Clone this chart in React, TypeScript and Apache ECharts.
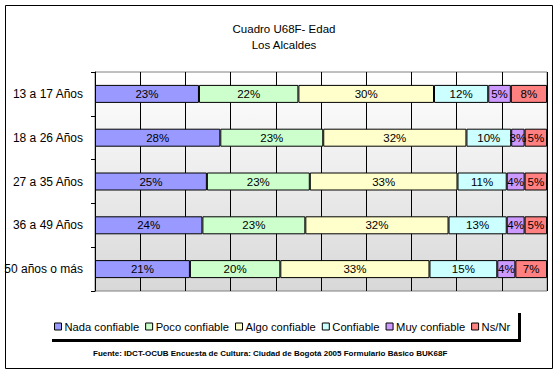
import React, { useEffect, useRef } from "react";
import * as echarts from "echarts";

const categories = ["13 a 17 Años", "18 a 26 Años", "27 a 35 Años", "36 a 49 Años", "50 años o más"];
const seriesNames = ["Nada confiable", "Poco confiable", "Algo confiable", "Confiable", "Muy confiable", "Ns/Nr"];
const nadaConfiable = [23, 28, 25, 24, 21];
const pocoConfiable = [22, 23, 23, 23, 20];
const algoConfiable = [30, 32, 33, 32, 33];
const confiable = [12, 10, 11, 13, 15];
const muyConfiable = [5, 3, 4, 4, 4];
const nsNr = [8, 5, 5, 5, 7];
const colors = ["#9999FF", "#CCFFCC", "#FFFFCC", "#CCFFFF", "#CC99FF", "#FF8080"];

const FONT = "'Liberation Sans', Arial, sans-serif";

export default function App() {
  const ref = useRef<HTMLDivElement>(null);
  useEffect(() => {
    if (!ref.current) return;
    const chart = echarts.init(ref.current, undefined, { renderer: "svg" });
    const all = [nadaConfiable, pocoConfiable, algoConfiable, confiable, muyConfiable, nsNr];
    const totals = categories.map((_, i) => all.reduce((s, arr) => s + arr[i], 0));
    const series = all.map((arr, si) => ({
      name: seriesNames[si],
      type: "bar",
      stack: "total",
      barWidth: 18,
      data: arr.map((v, i) => ({ value: (v / totals[i]) * 100, raw: v })),
      itemStyle: { color: colors[si], borderColor: "#000", borderWidth: 1 },
      label: {
        show: true,
        position: "inside",
        color: "#000",
        fontFamily: FONT,
        fontSize: 11.5,
        formatter: (p: any) => `${p.data.raw}%`,
      },
    }));
    chart.setOption({
      animation: false,
      backgroundColor: "#fff",
      textStyle: { fontFamily: FONT },
      title: {
        text: "Cuadro U68F- Edad\nLos Alcaldes",
        left: 279,
        top: 16,
        textAlign: "center",
        textStyle: { fontFamily: FONT, fontSize: 11.5, fontWeight: "normal", color: "#000", lineHeight: 16 },
      },
      legend: {
        left: 54,
        top: 321,
        padding: 0,
        itemWidth: 7,
        itemHeight: 7,
        itemGap: 6,
        icon: "rect",
        data: seriesNames.map((n, i) => ({
          name: n,
          itemStyle: { color: colors[i], borderColor: "#000", borderWidth: 1 },
        })),
        textStyle: { fontFamily: FONT, fontSize: 11.2, color: "#000", padding: [0, 0, 0, -2] },
      },
      grid: {
        left: 95,
        right: 12,
        top: 72,
        bottom: 83,
        show: true,
        borderColor: "#808080",
        borderWidth: 1,
        backgroundColor: {
          type: "linear",
          x: 0,
          y: 0,
          x2: 0,
          y2: 1,
          colorStops: [
            { offset: 0, color: "#ffffff" },
            { offset: 1, color: "#d8d8d8" },
          ],
        },
      },
      xAxis: {
        type: "value",
        min: 0,
        max: 100,
        interval: 10,
        axisLabel: { show: false },
        axisLine: { show: false },
        axisTick: { show: false },
        splitLine: { show: true, lineStyle: { color: "#000", width: 1 } },
      },
      yAxis: {
        type: "category",
        inverse: true,
        data: categories,
        axisLine: { show: true, lineStyle: { color: "#000", width: 1 } },
        axisTick: { show: true, length: 4, lineStyle: { color: "#000" } },
        axisLabel: { fontFamily: FONT, fontSize: 12, color: "#000", margin: 12 },
      },
      series,
      graphic: [
        {
          type: "rect",
          shape: { x: 5.5, y: 5.5, width: 547, height: 363 },
          style: { fill: "none", stroke: "#000", lineWidth: 1 },
          z: 100,
        },
        {
          type: "polyline",
          shape: { points: [[52, 340.5], [519.5, 340.5], [519.5, 313]] },
          style: { fill: "none", stroke: "#000", lineWidth: 3 },
          z: 100,
        },
        {
          type: "text",
          left: 93,
          top: 349,
          style: {
            text: "Fuente: IDCT-OCUB Encuesta de Cultura: Ciudad de Bogotá 2005 Formulario Básico BUK68F",
            font: `bold 8px ${FONT}`,
            fill: "#000",
          },
        },
      ],
    });
    return () => chart.dispose();
  }, []);
  return <div ref={ref} style={{ position: "fixed", left: 0, top: 0, width: 559, height: 374 }} />;
}
